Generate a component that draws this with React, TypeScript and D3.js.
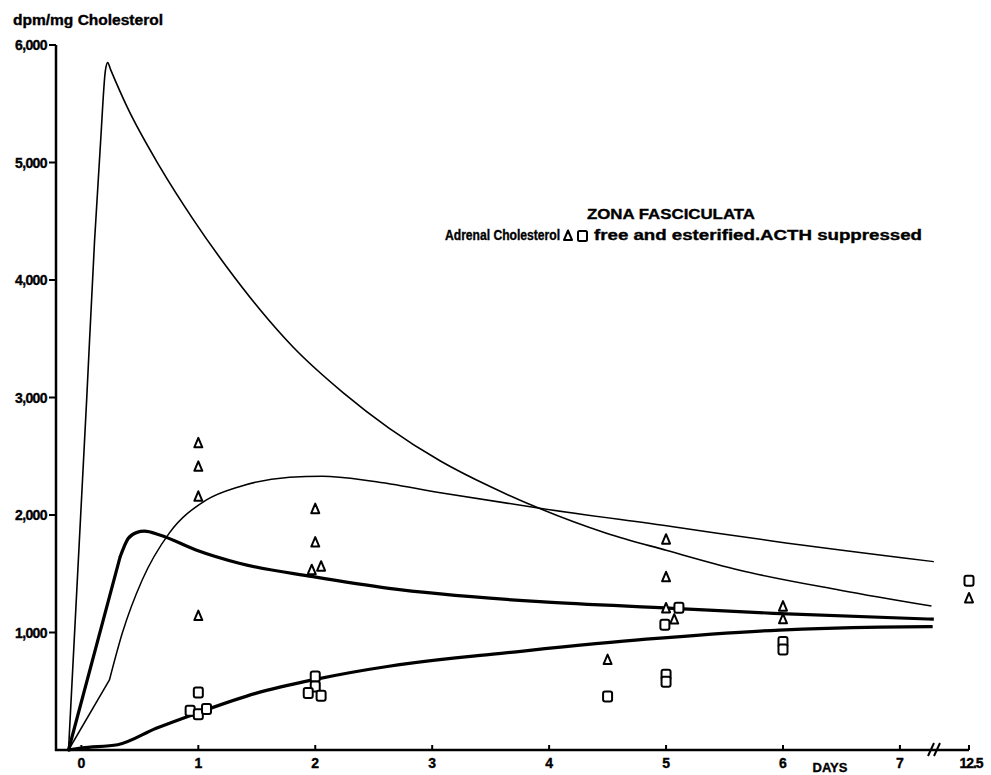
import * as d3 from 'd3'

// curves: [day, dpm/mg]
const decayCurve: [number, number][] = [
  [-0.11, 0], [0.045, 2980], [0.113, 4340], [0.165, 5190], [0.205, 5780], [0.225, 5850], [0.25, 5790],
  [0.39, 5475], [0.67, 4965], [0.96, 4510], [1.24, 4115], [1.53, 3745], [1.81, 3430],
  [2.24, 3040], [2.63, 2740], [3.07, 2460], [3.5, 2240], [3.92, 2055], [4.49, 1845], [5.0, 1700],
  [5.63, 1530], [6.49, 1360], [7.27, 1225]
]
const plateauStart: [number, number][] = [[-0.11, 0], [0.24, 596]]
const plateauCurve: [number, number][] = [
  [0.24, 596], [0.35, 995], [0.52, 1447], [0.75, 1844], [1.07, 2128], [1.35, 2241],
  [1.78, 2321], [2.06, 2330], [2.49, 2288], [3.07, 2190], [3.92, 2057], [5.06, 1900],
  [5.92, 1777], [7.29, 1603]
]
const freeStart: [number, number][] = [[-0.11, 0], [0.33, 1640]]
const freeCurve: [number, number][] = [
  [0.33, 1640], [0.4, 1800], [0.47, 1850], [0.54, 1862],
  [0.67, 1830], [0.98, 1702], [1.35, 1589], [1.98, 1475], [2.63, 1376], [3.07, 1328],
  [3.92, 1262], [5.06, 1206], [5.92, 1163], [7.29, 1113]
]
const esterCurve: [number, number][] = [
  [-0.11, 0], [0.0, 17], [0.31, 45], [0.64, 185], [1.0, 318], [1.49, 482], [2.0, 601],
  [2.63, 713], [3.2, 784], [3.41, 805], [4.83, 943], [5.97, 1021], [6.83, 1046], [7.28, 1050]
]

// measured points
const freePoints: [number, number][] = [
  [1, 2610], [1, 2410], [1, 2155], [1, 1140], [2, 2050], [2, 1765], [1.97, 1530], [2.05, 1560],
  [4.5, 765], [5, 1790], [5, 1470], [5, 1205], [5.07, 1110], [6, 1220], [6, 1112], [12.5, 1290]
]
const esterPoints: [number, number][] = [
  [1, 490], [0.93, 335], [1, 305], [1.07, 350], [2, 625], [2, 540], [1.94, 485], [2.05, 462],
  [4.5, 455], [5.11, 1210], [4.99, 1065], [5, 640], [5, 580], [6, 920], [6, 855], [12.5, 1440]
]

const xTicks = [0, 1, 2, 3, 4, 5, 6, 7, 12.5]
const xTickLabels = ['0', '1', '2', '3', '4', '5', '6', '7', '12.5']
const yTicks = [1000, 2000, 3000, 4000, 5000, 6000]
const yTickLabels = ['1,000', '2,000', '3,000', '4,000', '5,000', '6,000']

const W = 991
const H = 775
const font = '"Liberation Sans", Arial, sans-serif'

const tri = 'M0,-5.5 L4,4 L-4,4 Z'

export default function App() {
  // broken axis: 0..7.3 days linear, then a short stretch up to 12.5
  const x = d3.scaleLinear().domain([-0.2, 7.3, 12.5]).range([58, 935, 969])
  const y = d3.scaleLinear().domain([0, 6000]).range([750, 45])

  const smooth = d3.line<[number, number]>()
    .x(d => x(d[0]))
    .y(d => y(d[1]))
    .curve(d3.curveMonotoneX)
  const straight = d3.line<[number, number]>()
    .x(d => x(d[0]))
    .y(d => y(d[1]))

  const axisX = 56
  const axisY = 750
  const heavy = { stroke: '#000', strokeWidth: 0.35 }

  return (
    <svg width={W} height={H} style={{ position: 'absolute', left: 0, top: 0, background: '#fff' }}
      fontFamily={font} fontWeight="bold">
      <rect width={W} height={H} fill="#fff" />

      {/* y axis */}
      <line x1={axisX} x2={axisX} y1={y(6000)} y2={axisY + 1} stroke="#000" strokeWidth={2.5} />
      {yTicks.map((t, i) => (
        <g key={t}>
          <line x1={axisX - 7} x2={axisX} y1={y(t)} y2={y(t)} stroke="#000" strokeWidth={2} />
          <text x={axisX - 9} y={y(t)} dy="0.36em" textAnchor="end" fontSize={14}
            letterSpacing={-0.6} {...heavy}>{yTickLabels[i]}</text>
        </g>
      ))}
      <text x={13} y={25} fontSize={14} textLength={150} lengthAdjust="spacingAndGlyphs" {...heavy}>dpm/mg Cholesterol</text>

      {/* x axis */}
      <line x1={axisX - 1} x2={x(12.5)} y1={axisY} y2={axisY} stroke="#000" strokeWidth={2.5} />
      {xTicks.map((t, i) => (
        <g key={t}>
          <line x1={x(t)} x2={x(t)} y1={axisY - 5} y2={axisY} stroke="#000" strokeWidth={2} />
          <text x={x(t) + (t === 12.5 ? 2 : 0)} y={axisY + 18} textAnchor="middle" fontSize={14}
            letterSpacing={t === 12.5 ? -1 : 0} {...heavy}>{xTickLabels[i]}</text>
        </g>
      ))}
      <path d={`M${x(7.3) - 7},${axisY + 6} L${x(7.3) - 1},${axisY - 7} M${x(7.3) - 1},${axisY + 6} L${x(7.3) + 5},${axisY - 7}`}
        stroke="#000" strokeWidth={2} fill="none" />
      <text x={830} y={772} textAnchor="middle" fontSize={13} {...heavy}>DAYS</text>

      {/* curves */}
      <path d={smooth(decayCurve) ?? ''} fill="none" stroke="#000" strokeWidth={1.6} strokeLinejoin="round" />
      <path d={straight(plateauStart) ?? ''} fill="none" stroke="#000" strokeWidth={1.5} />
      <path d={smooth(plateauCurve) ?? ''} fill="none" stroke="#000" strokeWidth={1.5} />
      <path d={straight(freeStart) ?? ''} fill="none" stroke="#000" strokeWidth={3.2} strokeLinecap="round" />
      <path d={smooth(freeCurve) ?? ''} fill="none" stroke="#000" strokeWidth={3.2} strokeLinejoin="round" />
      <path d={smooth(esterCurve) ?? ''} fill="none" stroke="#000" strokeWidth={3.2} strokeLinejoin="round" />

      {/* points */}
      {esterPoints.map((d, i) => (
        <rect key={'e' + i} x={x(d[0]) - 4.5} y={y(d[1]) - 5} width={9} height={10} rx={2}
          fill="#fff" stroke="#000" strokeWidth={2} />
      ))}
      {freePoints.map((d, i) => (
        <path key={'f' + i} d={tri} transform={`translate(${x(d[0])},${y(d[1])})`}
          fill="#fff" stroke="#000" strokeWidth={2} strokeLinejoin="round" />
      ))}

      {/* title and legend */}
      <text x={587} y={219} fontSize={15} textLength={168} lengthAdjust="spacingAndGlyphs" {...heavy}>ZONA FASCICULATA</text>
      <text x={445} y={240} fontSize={14} textLength={115} lengthAdjust="spacingAndGlyphs" {...heavy}>Adrenal Cholesterol</text>
      <path d={tri} transform="translate(568,236)" fill="#fff" stroke="#000" strokeWidth={2} strokeLinejoin="round" />
      <rect x={578} y={231} width={9} height={10} rx={1.5} fill="#fff" stroke="#000" strokeWidth={2} />
      <text x={594} y={240} fontSize={14} textLength={328} lengthAdjust="spacingAndGlyphs" {...heavy}>free and esterified.ACTH suppressed</text>
    </svg>
  )
}
